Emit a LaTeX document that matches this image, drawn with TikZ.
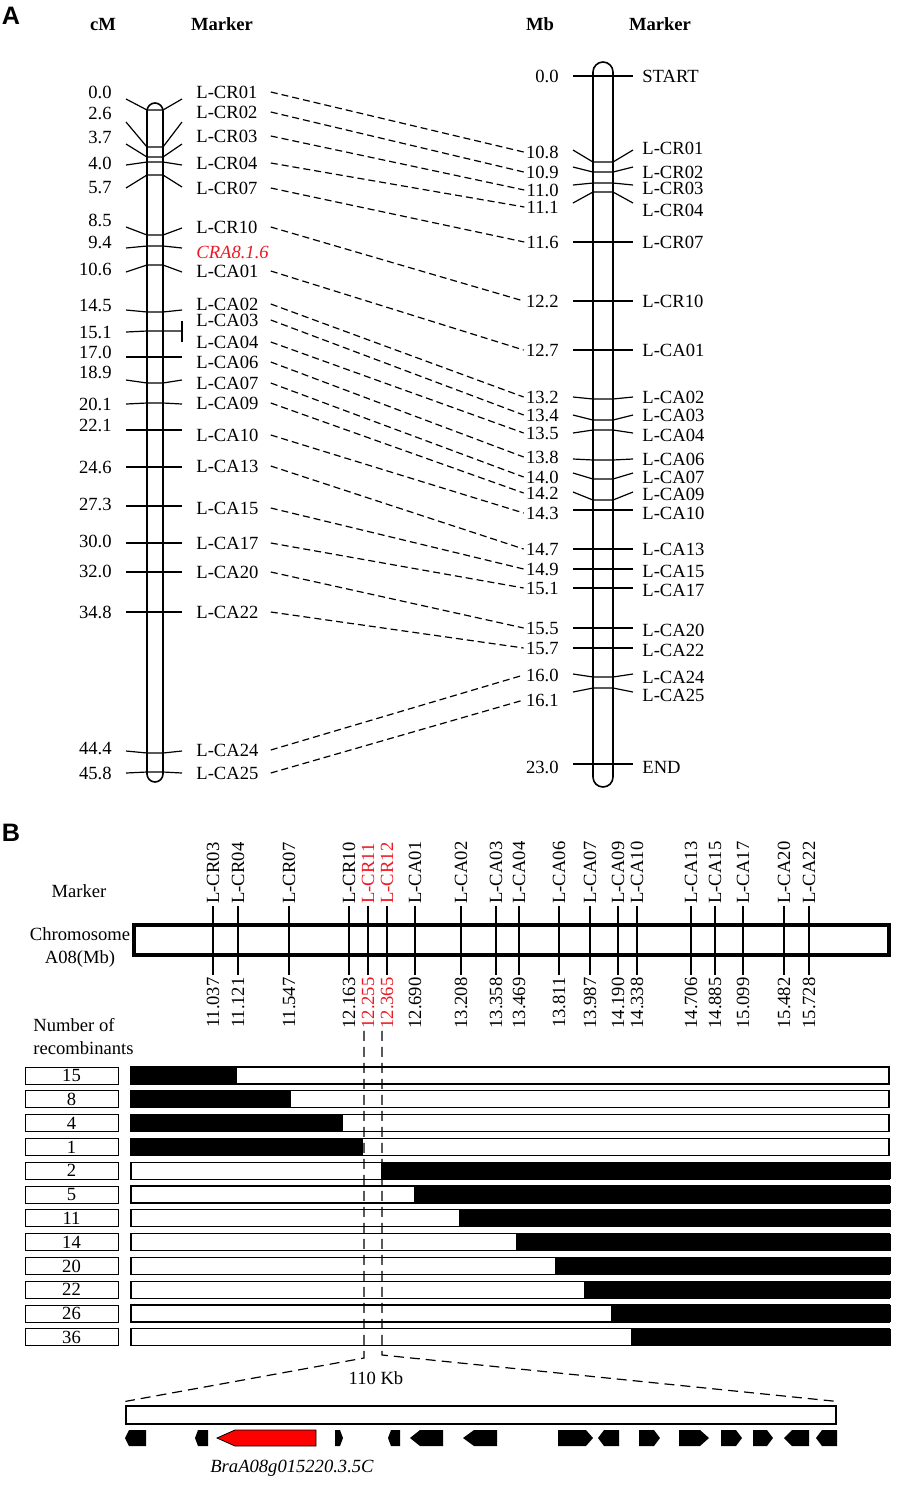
\documentclass[tikz,border=0pt]{standalone}
\usepackage{fontspec}
\setmainfont{Liberation Serif}
\newfontfamily\panelfont{Liberation Sans}
\usetikzlibrary{calc}
\tikzset{>=latex}
\definecolor{mkred}{RGB}{235,25,35}
\tikzset{
	lab/.style={font=\fontsize{9.3}{11.5}\selectfont, inner sep=1pt},
	head/.style={font=\fontsize{9.3}{11.5}\selectfont\bfseries, inner sep=1pt},
	panel/.style={font=\fontsize{12.6}{14}\selectfont\panelfont\bfseries, inner sep=0pt},
	tick/.style={line width=0.6pt},
	chrom/.style={line width=0.8pt},
	link/.style={line width=0.6pt, dash pattern=on 3.5pt off 2pt},
	zoomline/.style={line width=0.6pt, dash pattern=on 5pt off 3pt},
	numbox/.style={draw, line width=0.5pt, minimum width=46.5pt, minimum height=8.5pt, inner sep=0pt, font=\fontsize{9.3}{11}\selectfont},
	bar/.style={draw, line width=0.6pt, fill=white},
	gene/.style={fill=black},
}

\begin{document}
\begin{tikzpicture}[x=0.5pt,y=-0.5pt]
		\useasboundingbox (0,0) rectangle (898,1485);
		
		% panel A: genetic map (left) and physical map (right)
		\node[panel] (A) at (11,16) {A};
		\node[head] (cmhead) at (103,24) {cM};
		\node[head] (mkhead1) at (222,24) {Marker};
		\node[head] (mbhead) at (540,24) {Mb};
		\node[head] (mkhead2) at (660,24) {Marker};
		
		\draw[chrom, rounded corners=4pt] (147,103) rectangle (163,782);
		\draw[chrom, rounded corners=5pt] (593,62) rectangle (613,787);
		
		\foreach \cm/\ty/\ly/\cy/\ry/\mk/\my in {0.0/92/99/110/99/L-CR01/92, 2.6/113/122/147/122/L-CR02/112, 3.7/137/144/157/144/L-CR03/136, 4.0/163/165/162/165/L-CR04/163, 5.7/188/188/175/187/L-CR07/188, 8.5/220/227/235/228/L-CR10/227, 10.6/269/272/265/272/L-CA01/271, 14.5/305/310/312/310/L-CA02/304, 17.0/352/357/357/357/L-CA06/362, 18.9/372/380/383/380/L-CA07/383, 20.1/404/404/403/404/L-CA09/403, 22.1/425/430/430/430/L-CA10/435, 24.6/467/467/467/467/L-CA13/466, 27.3/504/506/506/506/L-CA15/508, 30.0/541/543/543/543/L-CA17/543, 32.0/571/572/572/572/L-CA20/572, 34.8/612/612/612/612/L-CA22/612, 44.4/748/751/753/751/L-CA24/750, 45.8/773/773/772/773/L-CA25/773}
		{
			\node[lab, anchor=east] (cm-\mk) at (114,\ty) {\cm};
			\draw[tick] (126,\ly) -- (147,\cy) -- (163,\cy) -- (182,\ry);
			\node[lab, anchor=west, text width=36pt] (l-\mk) at (194,\my) {\mk};
		}
		
		% QTL and the two markers on one locus
		\node[lab, anchor=east] (cm-qtl) at (114,242) {9.4};
		\draw[tick] (126,248) -- (147,246) -- (163,246) -- (182,248);
		\node[lab, anchor=west, text width=36pt, text=mkred, font=\fontsize{9.3}{11}\selectfont\itshape] (qtl) at (194,252) {CRA8.1.6};
		\node[lab, anchor=east] (cm-pair) at (114,332) {15.1};
		\draw[tick] (126,332) -- (147,331) -- (163,331) -- (182,331);
		\draw[tick] (182,321) -- (182,342);
		\node[lab, anchor=west, text width=36pt] (l-L-CA03) at (194,320) {L-CA03};
		\node[lab, anchor=west, text width=36pt] (l-L-CA04) at (194,342) {L-CA04};
		
		\foreach \mb/\ty/\ly/\cy/\ry/\mk/\my in {0.0/76/76/76/76/START/76, 10.8/152/150/162/150/L-CR01/148, 10.9/172/167/172/167/L-CR02/172, 11.0/190/185/183/185/L-CR03/188, 11.1/207/203/192/203/L-CR04/210, 11.6/242/242/242/242/L-CR07/242, 12.2/301/301/301/301/L-CR10/301, 12.7/350/350/350/350/L-CA01/350, 13.2/397/397/399/397/L-CA02/397, 13.4/415/415/420/415/L-CA03/415, 13.5/433/433/430/433/L-CA04/435, 13.8/457/459/460/459/L-CA06/459, 14.0/477/473/479/473/L-CA07/477, 14.2/493/492/500/492/L-CA09/494, 14.3/513/510/510/510/L-CA10/513, 14.7/549/549/549/549/L-CA13/549, 14.9/569/569/569/569/L-CA15/571, 15.1/588/588/588/588/L-CA17/590, 15.5/628/628/628/628/L-CA20/630, 15.7/648/648/648/648/L-CA22/650, 16.0/675/674/677/674/L-CA24/677, 16.1/700/692/688/692/L-CA25/695, 23.0/767/764/764/764/END/767}
		{
			\node[lab, anchor=east] (m-\mk) at (561,\ty) {\mb};
			\draw[tick] (573,\ly) -- (593,\cy) -- (613,\cy) -- (633,\ry);
			\node[lab, anchor=west] (r-\mk) at (640,\my) {\mk};
		}
		
		\foreach \mk in {L-CR01,L-CR02,L-CR03,L-CR04,L-CR07,L-CR10,L-CA01,L-CA02,L-CA03,L-CA04,L-CA06,L-CA07,L-CA09,L-CA10,L-CA13,L-CA15,L-CA17,L-CA20,L-CA22,L-CA24,L-CA25}
		{
			\draw[link] (l-\mk.east) -- (m-\mk.west);
		}
		
		% panel B: fine mapping
		\node[panel] (B) at (11,833) {B};
		\node[lab] (mkheadB) at (79,891) {Marker};
		\node[lab, align=center] (chrhead) at (80,948) {Chromosome\\A08(Mb)};
		\node[lab, align=left, anchor=west] (rechead) at (31,1037) {Number of\\recombinants};
		
		\node[draw, line width=1.6pt, minimum width=377.5pt, minimum height=15pt, inner sep=0pt] (chromB) at (511.5,940) {};
		
		\foreach \x/\mk/\pos/\c [count=\i] in {213/L-CR03/11.037/black, 238/L-CR04/11.121/black, 289/L-CR07/11.547/black, 349/L-CR10/12.163/black, 368/L-CR11/12.255/mkred, 387/L-CR12/12.365/mkred, 415/L-CA01/12.690/black, 461/L-CA02/13.208/black, 496/L-CA03/13.358/black, 519/L-CA04/13.469/black, 559/L-CA06/13.811/black, 590/L-CA07/13.987/black, 618/L-CA09/14.190/black, 637/L-CA10/14.338/black, 691/L-CA13/14.706/black, 715/L-CA15/14.885/black, 743/L-CA17/15.099/black, 784/L-CA20/15.482/black, 809/L-CA22/15.728/black}
		{
			\node[lab, text=\c, rotate=90, anchor=west] (b-\i) at (\x,906) {\mk};
			\node[lab, text=\c, rotate=90, anchor=east] (p-\i) at (\x,975) {\pos};
			\draw[line width=1pt] (b-\i.west) -- (p-\i.east);
		}
		
		\foreach \n/\xa/\xb [count=\i] in {15/131/237, 8/131/291, 4/131/343, 1/131/363, 2/381/891, 5/414/891, 11/459/891, 14/516/891, 20/555/891, 22/584/891, 26/611/891, 36/631/891}
		{
			\pgfmathsetmacro{\yt}{1067+23.8*(\i-1)}
			\node[numbox] (n-\i) at (71.5,{\yt+8.5}) {\n};
			\draw[bar] (131,\yt) rectangle (889,{\yt+17});
			\fill[black] (\xa,\yt) rectangle (\xb,{\yt+17});
		}
		
		% zoom into the 110 Kb interval
		\node[draw, line width=0.6pt, minimum width=355pt, minimum height=9pt, inner sep=0pt] (region) at (481,1415) {};
		\coordinate (cutL) at (364,1358);
		\coordinate (cutR) at (382,1355);
		\draw[zoomline] (cutL |- p-5.west) -- (cutL) -- ([yshift=2pt]region.north west);
		\draw[zoomline] (cutR |- p-6.west) -- (cutR) -- ([yshift=2pt]region.north east);
		\node[lab] (kb) at (376,1378) {110 Kb};
		
		\foreach \a/\b/\t in {125/146/4, 195/208/3, 388/400/3, 410/443/10, 463/497/11, 598/619/6, 784/809/8, 816/837/6}
		{
			\fill[gene] (\a,1438) -- ({\a+\t},1430) -- (\b,1430) -- (\b,1446) -- ({\a+\t},1446) -- cycle;
		}
		\foreach \a/\b/\t in {335/343/3, 558/593/7, 639/660/6, 679/709/9, 721/742/6, 753/773/6}
		{
			\fill[gene] (\a,1430) -- ({\b-\t},1430) -- (\b,1438) -- ({\b-\t},1446) -- (\a,1446) -- cycle;
		}
		\draw[fill=red, line width=0.4pt] (217,1438) -- (235,1430) -- (316,1430) -- (316,1446) -- (235,1446) -- cycle;
		\node[lab, font=\fontsize{9.3}{11}\selectfont\itshape] (genename) at (292,1468) {BraA08g015220.3.5C};
	\end{tikzpicture}
\end{document}
